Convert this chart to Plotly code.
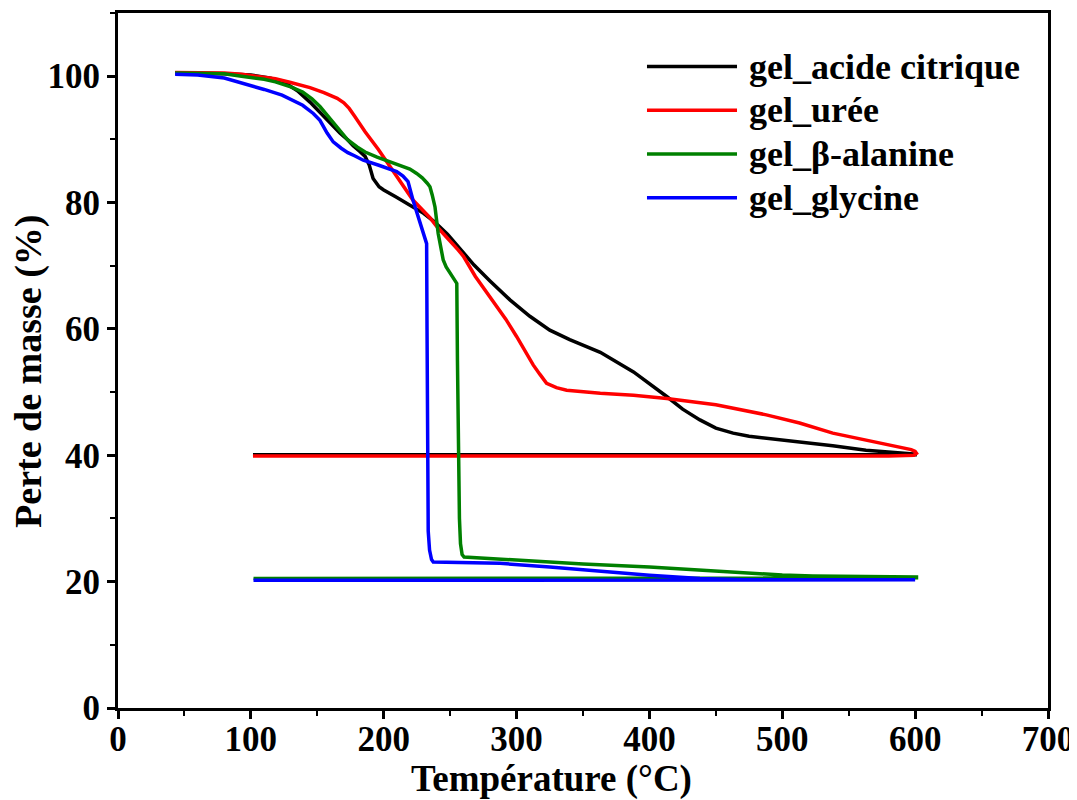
import plotly.graph_objects as go

# ---------------- data ----------------
names = ["gel_acide citrique", "gel_urée", "gel_β-alanine", "gel_glycine"]
colors = ["#000000", "#FF0000", "#008000", "#0000FF"]

t_citrique = [43, 60, 80, 100, 115, 126, 135, 144.5, 152, 160, 167, 173, 177, 182, 186, 189, 192,
              196.5, 200, 209, 215, 222, 230, 238, 248, 258, 268, 280, 295, 310, 325, 340, 363, 388,
              400, 413, 425, 438, 450, 463, 475, 488, 513, 538, 563, 585, 598, 600, 600, 101.6]
m_citrique = [100.5, 100.5, 100.4, 100.2, 99.7, 98.9, 97.7, 95.9, 94.2, 92.5, 91.0, 89.9, 89.0, 88.1,
              87.3, 86.0, 83.8, 82.5, 82.0, 80.9, 80.1, 79.3, 78.3, 77.0, 75.0, 72.5, 70.1, 67.6, 64.6,
              62.0, 59.8, 58.3, 56.3, 53.2, 51.4, 49.3, 47.3, 45.6, 44.3, 43.5, 43.0, 42.7, 42.1, 41.5,
              40.8, 40.5, 40.3, 40.2, 40.1, 40.1]

t_uree = [43, 60, 80, 93, 110, 118.5, 130, 144.5, 155, 160, 165, 170, 174, 178, 182, 186, 196, 209,
          222, 234.8, 240, 256, 260, 269, 280, 285, 292, 300, 308, 312.5, 317.6, 322.6, 330, 337.7,
          363, 388, 413, 423, 450, 488, 513, 538, 563, 589, 597, 600, 601, 599, 580, 500, 300, 101.6]
m_uree = [100.6, 100.6, 100.5, 100.3, 99.9, 99.6, 99.0, 98.2, 97.4, 97.0, 96.5, 95.8, 94.9, 93.7,
          92.4, 91.2, 88.4, 84.5, 80.4, 77.6, 76.2, 72.5, 71.5, 68.3, 65.1, 63.5, 61.5, 58.8, 56.0,
          54.3, 52.8, 51.4, 50.7, 50.3, 49.8, 49.5, 49.0, 48.7, 48.0, 46.4, 45.1, 43.5, 42.4, 41.3,
          40.9, 40.6, 40.3, 40.0, 39.9, 39.9, 39.9, 39.9]

t_alanine = [43, 60, 80, 93, 110, 118.5, 130, 139, 146, 152, 157, 162.6, 168, 173, 180, 186, 195,
             204.7, 212, 219.7, 224.8, 229, 232.6, 234.8, 236.5, 238.6, 241, 243, 244.8, 247, 249.9,
             252, 255, 255.5, 256.3, 257.0, 257.8, 259, 260.5, 300, 350, 400, 423, 450, 473, 500,
             523, 560, 601, 601, 102]
m_alanine = [100.5, 100.5, 100.4, 100.0, 99.5, 99.1, 98.3, 97.5, 96.4, 95.2, 93.9, 92.5, 91.0, 89.9,
             88.8, 88.0, 87.2, 86.5, 85.9, 85.3, 84.6, 83.9, 83.1, 82.5, 81.2, 79.3, 75.1, 72.5,
             70.9, 69.8, 68.8, 68.0, 67.2, 55.0, 40.0, 30.0, 26.0, 24.3, 23.9, 23.4, 22.8, 22.3,
             22.0, 21.7, 21.3, 21.05, 20.9, 20.8, 20.75, 20.6, 20.5]

t_glycine = [43, 60, 80, 92.6, 110, 123.5, 132, 139, 147, 152, 157.4, 162, 168, 173, 178, 184.6,
             196.3, 209.8, 214.5, 218.3, 222, 224.8, 227.4, 231, 232.3, 232.6, 233.0, 233.5, 234.5,
             236, 237.3, 250, 287.5, 325, 362.8, 400, 438, 470, 500, 600, 600, 102]
m_glycine = [100.3, 100.2, 99.7, 99.0, 97.9, 97.0, 96.2, 95.4, 94.1, 93.0, 91.0, 89.6, 88.6, 87.9,
             87.4, 86.7, 85.9, 84.9, 84.2, 83.3, 80.4, 78.5, 76.7, 74.2, 73.5, 60.0, 40.0, 28.0,
             25.0, 23.5, 23.1, 23.05, 22.9, 22.3, 21.6, 21.0, 20.5, 20.3, 20.3, 20.3, 20.2, 20.2]

temps = [t_citrique, t_uree, t_alanine, t_glycine]
masses = [m_citrique, m_uree, m_alanine, m_glycine]

x_title = "Température (°C)"
y_title = "Perte de masse (%)"

# ---------------- figure ----------------
FONT = "Liberation Serif, Times New Roman, serif"
fig = go.Figure()
for name, col, t, m in zip(names, colors, temps, masses):
    fig.add_trace(go.Scatter(x=t, y=m, mode="lines", name=name,
                             line=dict(color=col, width=3.5), showlegend=False))

# custom legend (long line samples like the reference)
legend_rows = [0.9229, 0.86, 0.7971, 0.7343]
for name, col, yy in zip(names, colors, legend_rows):
    fig.add_shape(type="line", xref="paper", yref="paper", x0=0.5688, x1=0.6656, y0=yy, y1=yy,
                  line=dict(color=col, width=3.5))
    fig.add_annotation(xref="paper", yref="paper", x=0.6763, y=yy, text=name, showarrow=False,
                       xanchor="left", yanchor="middle",
                       font=dict(family=FONT, size=36, color="black", weight="bold"))

fig.add_annotation(xref="paper", yref="paper", x=0.4656, y=-0.1025, text=x_title, showarrow=False,
                   xanchor="center", yanchor="middle",
                   font=dict(family=FONT, size=37, color="black", weight="bold"))
fig.add_annotation(xref="paper", yref="paper", x=-0.0957, y=0.485, text=y_title, showarrow=False,
                   textangle=-90, xanchor="center", yanchor="middle",
                   font=dict(family=FONT, size=38, color="black", weight="bold"))

axis_common = dict(showline=True, linecolor="black", linewidth=3, mirror=True, showgrid=False,
                   zeroline=False, ticks="outside", ticklen=8, tickwidth=3, tickcolor="black",
                   tickfont=dict(family=FONT, size=35, color="black", weight="bold"))

fig.update_xaxes(range=[0, 700], dtick=100, tick0=0, ticklabelstandoff=-10,
                 minor=dict(ticks="outside", ticklen=5, tickwidth=2, tickcolor="black", dtick=50,
                            showgrid=False),
                 **axis_common)
fig.update_yaxes(range=[0, 110], tickvals=[0, 20, 40, 60, 80, 100],
                 minor=dict(ticks="outside", ticklen=5, tickwidth=2, tickcolor="black",
                            tickvals=[10, 30, 50, 70, 90, 110], showgrid=False),
                 **axis_common)

# the page adds an 8px body margin, so the figure is sized/margined to land where the reference is
fig.update_layout(width=1069, height=792, plot_bgcolor="white", paper_bgcolor="white",
                  margin=dict(l=110, r=29, t=5, b=92, autoexpand=False))

fig.write_html("out.html")
